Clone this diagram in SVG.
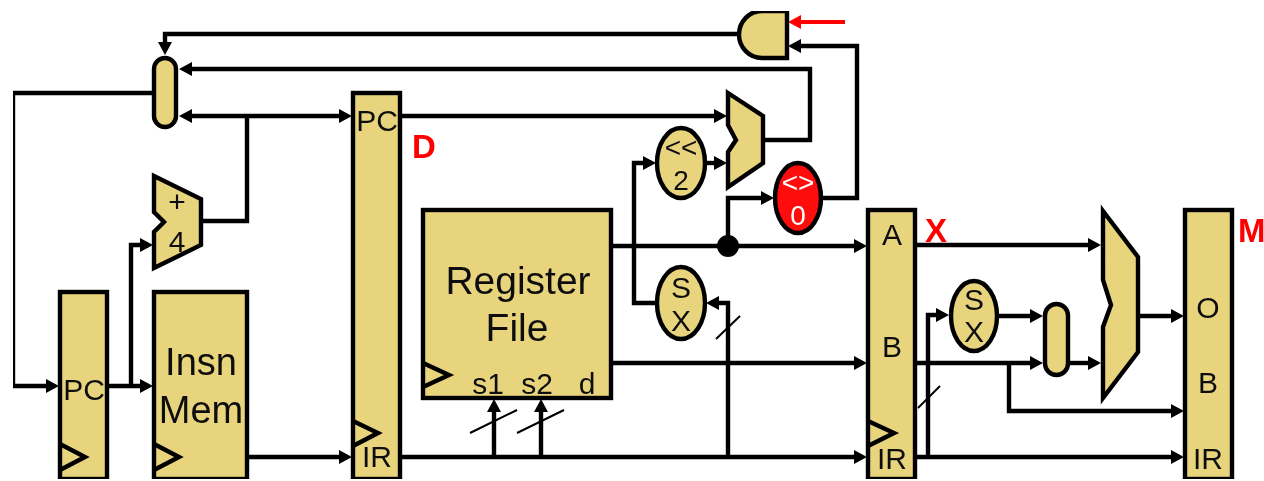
<svg xmlns="http://www.w3.org/2000/svg" width="1264" height="481" viewBox="0 0 1264 481">
<style>
.n{fill:#E8D47C;stroke:#000;stroke-width:4.4;stroke-linejoin:miter}
.c{fill:none;stroke:#000;stroke-width:4.4;stroke-linejoin:miter;stroke-linecap:butt}
.a{marker-end:url(#ah)}
.tick{stroke:#000;stroke-width:2;fill:none}
.ck{fill:none;stroke:#000;stroke-width:4.4;stroke-linejoin:miter}
text{font-family:"Liberation Sans",Arial,sans-serif;font-size:30px;fill:#111;text-anchor:middle}
.t26{font-size:28px}
.t29{font-size:30px}
.big{font-size:39px}
.stage{font-size:33px;font-weight:bold;fill:#FF0000;text-anchor:start}
</style>
<defs>
<marker id="ah" viewBox="0 0 13 14" markerWidth="13" markerHeight="14" markerUnits="userSpaceOnUse" refX="8" refY="7" orient="auto-start-reverse"><path d="M0 0L13 7L0 14Z" fill="#000"/></marker>
<marker id="ahr" viewBox="0 0 13 14" markerWidth="13" markerHeight="14" markerUnits="userSpaceOnUse" refX="8" refY="7" orient="auto"><path d="M0 0L13 7L0 14Z" fill="#FF0000"/></marker>
<filter id="soft" x="0" y="0" width="100%" height="100%"><feGaussianBlur stdDeviation="0.45"/></filter>
</defs>
<rect width="1264" height="481" fill="#fff"/>
<g filter="url(#soft)">
<g id="connectors">
<path class="c a" d="M739 34H165V50"/>
<path class="c a" d="M763 140H810V69H184"/>
<path class="c a" style="marker-start:url(#ah)" d="M184 116H347"/>
<path class="c" d="M247 116V221H201"/>
<path class="c a" d="M400 116H722"/>
<path class="c a" d="M154 93H13V386H54"/>
<path class="c a" d="M107 386H148"/>
<path class="c a" d="M131 386V245H148"/>
<path class="c a" d="M247 457H347"/>
<path class="c a" d="M400 457H862"/>
<path class="c a" d="M494 457V404"/>
<path class="c a" d="M541 457V404"/>
<path class="c a" d="M728 457V303H711"/>
<path class="c a" d="M611 246H862"/>
<path class="c a" d="M728 246V198H769"/>
<circle cx="728" cy="246" r="11" fill="#000"/>
<path class="c a" d="M821 198H857V46H793"/>
<path fill="none" stroke="#FF0000" stroke-width="4" marker-end="url(#ahr)" d="M845 22H793"/>
<path class="c a" d="M611 363H862"/>
<path class="c a" d="M657 303H634V163H651"/>
<path class="c a" d="M705 163H722"/>
<path class="c a" d="M915 245H1096"/>
<path class="c a" d="M915 363H1038"/>
<path class="c a" d="M997 316H1038"/>
<path class="c a" d="M1068 363H1096"/>
<path class="c a" d="M1138 316H1179"/>
<path class="c a" d="M1009 363V411H1179"/>
<path class="c a" d="M915 457H1179"/>
<path class="c a" d="M928 457V315H944"/>
<path class="tick" d="M470 433L517 410"/>
<path class="tick" d="M517 433L564 410"/>
<path class="tick" d="M716 339L740 316"/>
<path class="tick" d="M918 408L940 386"/>
</g>
<g id="pc-reg"><rect class="n" x="60" y="292" width="47" height="187"/><polyline class="ck" points="60,444 85,457 60,470"/><text x="84" y="400">PC</text></g>
<g id="insn-mem"><rect class="n" x="154" y="292" width="93" height="187"/><polyline class="ck" points="154,444 179,457 154,470"/><text class="big" x="201" y="375" style="font-size:38px">Insn</text><text class="big" x="201" y="423" style="font-size:38px">Mem</text></g>
<g id="pc-mux"><rect class="n" x="154" y="58" width="22" height="69" rx="11"/></g>
<g id="pc-adder"><polygon class="n" points="154,176 201,199 201,245 154,268 154,232 164,222 154,212"/><text x="177" y="212">+</text><text x="177" y="252">4</text></g>
<g id="d-latch"><rect class="n" x="353" y="93" width="47" height="386"/><polyline class="ck" points="353,421 378,433 353,446"/><text x="377" y="131">PC</text><text x="377" y="467">IR</text><text class="stage" x="412" y="158">D</text></g>
<g id="regfile"><rect class="n" x="423" y="210" width="188" height="188"/><polyline class="ck" points="423,363 449,375 423,387"/><text class="big" x="518" y="294">Register</text><text class="big" x="517" y="341">File</text><text x="488" y="394">s1</text><text x="537" y="394">s2</text><text x="587" y="394">d</text></g>
<g id="shift2"><ellipse class="n" cx="681" cy="163" rx="24" ry="35"/><text class="t26" x="681" y="157">&lt;&lt;</text><text class="t26" x="681" y="190">2</text></g>
<g id="sx1"><ellipse class="n" cx="681" cy="303" rx="24" ry="36"/><text class="t29" x="681" y="298">S</text><text class="t29" x="681" y="331">X</text></g>
<g id="branch-adder"><polygon class="n" points="728,93 763,116 763,163 728,187 728,152 736,140 728,125"/></g>
<g id="zero-test"><ellipse class="n" style="fill:#FF0808" cx="798" cy="198" rx="23" ry="35"/><text class="t26" x="798" y="192" style="fill:#fff">&lt;&gt;</text><text class="t26" x="798" y="225" style="fill:#fff">0</text></g>
<g id="and-gate"><path class="n" d="M787 11H762A23 23.5 0 0 0 762 58H787Z"/></g>
<g id="x-latch"><rect class="n" x="868" y="210" width="47" height="269"/><polyline class="ck" points="868,421 894,433 868,446"/><text x="892" y="245">A</text><text x="892" y="357">B</text><text x="892" y="469">IR</text><text class="stage" x="925" y="242">X</text></g>
<g id="sx2"><ellipse class="n" cx="974" cy="316" rx="23" ry="35"/><text class="t29" x="974" y="310">S</text><text class="t29" x="974" y="342">X</text></g>
<g id="alu-mux"><rect class="n" x="1045" y="304" width="23" height="71" rx="11.5"/></g>
<g id="alu"><polygon class="n" points="1103,211 1138,257 1138,352 1103,398 1103,327 1111,305 1103,280"/></g>
<g id="m-latch"><rect class="n" x="1185" y="210" width="47" height="269"/><text x="1208" y="318">O</text><text x="1208" y="393">B</text><text x="1208" y="469">IR</text><text class="stage" x="1238" y="242">M</text></g>
</g>
</svg>
